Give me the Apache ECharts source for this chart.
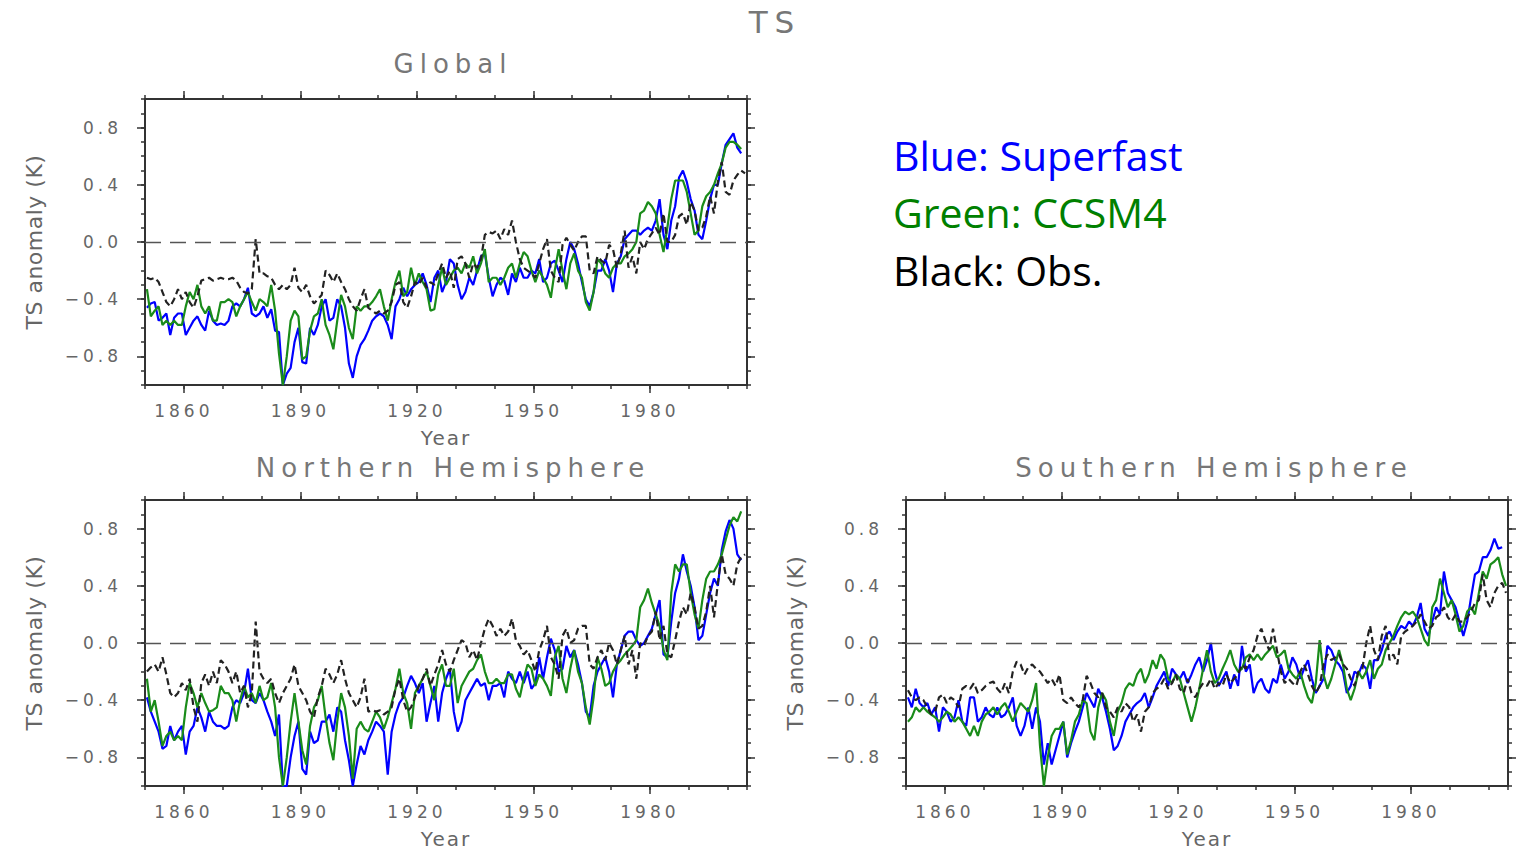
<!DOCTYPE html>
<html>
<head>
<meta charset="utf-8">
<script src="https://cdn.jsdelivr.net/npm/echarts@6/dist/echarts.min.js"></script>
<style>
html,body{margin:0;padding:0;background:#ffffff;}
#chart{width:1518px;height:853px;}
#chart text[style*="17px"]{letter-spacing:4px;}
#chart text[style*="22px"]{letter-spacing:0.5px;}
#chart text[style*="20px"]{letter-spacing:2px;}
#chart text[style*="26px"]{letter-spacing:6px;}
#chart text[style*="31px"]{letter-spacing:7px;}
</style>
</head>
<body>
<div id="chart"></div>
<script>
// Annual means, first value = 1850 (plotted at mid-year)
const START_YEAR = 1850.5;
const X_MIN = 1850, X_MAX = 2005;
const MAJOR_YEARS = [1860, 1890, 1920, 1950, 1980];
const MAJOR_Y = [-0.8, -0.4, 0, 0.4, 0.8];

const globalObs = [
 -0.25,-0.26,-0.25,-0.28,-0.35,-0.42,-0.45,-0.40,-0.33,-0.40,
 -0.35,-0.42,-0.46,-0.38,-0.27,-0.26,-0.25,-0.27,-0.26,-0.25,
 -0.26,-0.26,-0.25,-0.27,-0.32,-0.35,-0.36,-0.33,0.02,-0.22,
 -0.22,-0.24,-0.25,-0.30,-0.33,-0.30,-0.33,-0.30,-0.18,-0.32,
 -0.35,-0.30,-0.38,-0.43,-0.40,-0.37,-0.20,-0.23,-0.28,-0.22,
 -0.28,-0.33,-0.40,-0.45,-0.48,-0.40,-0.33,-0.46,-0.48,-0.50,
 -0.48,-0.50,-0.48,-0.42,-0.30,-0.28,-0.42,-0.46,-0.38,-0.28,
 -0.30,-0.25,-0.32,-0.28,-0.30,-0.22,-0.15,-0.25,-0.20,-0.32,
 -0.12,-0.10,-0.15,-0.25,-0.15,-0.18,-0.12,0.05,0.07,0.06,
 0.08,0.02,0.09,0.05,0.15,0.00,-0.12,-0.18,-0.20,-0.22,
 -0.25,-0.15,-0.05,0.02,-0.20,-0.25,-0.28,-0.02,0.03,-0.02,
 -0.06,0.00,0.04,0.04,-0.20,-0.22,-0.10,-0.13,-0.15,-0.02,
 -0.05,-0.18,-0.08,0.08,-0.18,-0.10,-0.22,0.00,-0.05,0.02,
 0.06,0.10,0.05,0.20,0.00,0.00,0.05,0.18,0.20,0.12,
 0.28,0.22,0.08,0.10,0.18,0.32,0.20,0.42,0.56,0.35,
 0.33,0.43,0.47,0.50,0.48
];
const globalSuperfast = [
 -0.46,-0.43,-0.42,-0.55,-0.53,-0.50,-0.65,-0.53,-0.50,-0.50,
 -0.65,-0.60,-0.55,-0.52,-0.58,-0.62,-0.48,-0.55,-0.58,-0.57,
 -0.58,-0.55,-0.45,-0.43,-0.45,-0.40,-0.32,-0.50,-0.52,-0.50,
 -0.45,-0.53,-0.47,-0.62,-0.63,-1.00,-0.92,-0.88,-0.70,-0.60,
 -0.84,-0.85,-0.60,-0.65,-0.58,-0.45,-0.40,-0.55,-0.53,-0.40,
 -0.45,-0.60,-0.85,-0.95,-0.80,-0.72,-0.68,-0.62,-0.55,-0.52,
 -0.50,-0.52,-0.58,-0.68,-0.45,-0.40,-0.32,-0.38,-0.33,-0.30,
 -0.28,-0.22,-0.30,-0.42,-0.25,-0.20,-0.35,-0.28,-0.12,-0.15,
 -0.30,-0.40,-0.35,-0.25,-0.30,-0.20,-0.10,-0.08,-0.25,-0.38,
 -0.30,-0.25,-0.27,-0.37,-0.22,-0.28,-0.18,-0.25,-0.25,-0.20,
 -0.22,-0.12,-0.28,-0.25,-0.15,-0.13,-0.20,-0.28,-0.12,0.00,
 -0.05,-0.15,-0.28,-0.40,-0.45,-0.35,-0.20,-0.20,-0.12,-0.20,
 -0.35,-0.15,-0.10,0.02,0.05,0.08,0.08,0.05,0.08,0.10,
 0.08,0.15,0.30,0.05,-0.05,0.15,0.25,0.45,0.50,0.42,
 0.30,0.22,0.05,0.02,0.15,0.30,0.40,0.40,0.55,0.68,
 0.72,0.76,0.66,0.62
];
const globalCCSM4 = [
 -0.33,-0.52,-0.48,-0.45,-0.58,-0.55,-0.58,-0.55,-0.58,-0.58,
 -0.45,-0.35,-0.40,-0.30,-0.45,-0.50,-0.45,-0.55,-0.55,-0.42,
 -0.42,-0.40,-0.42,-0.52,-0.45,-0.40,-0.35,-0.42,-0.48,-0.40,
 -0.42,-0.45,-0.30,-0.48,-0.78,-1.00,-0.80,-0.55,-0.48,-0.52,
 -0.82,-0.80,-0.62,-0.52,-0.50,-0.40,-0.58,-0.65,-0.75,-0.55,
 -0.37,-0.45,-0.60,-0.68,-0.45,-0.48,-0.45,-0.45,-0.42,-0.38,
 -0.33,-0.45,-0.55,-0.40,-0.28,-0.20,-0.38,-0.35,-0.18,-0.30,
 -0.22,-0.28,-0.33,-0.48,-0.47,-0.30,-0.18,-0.30,-0.25,-0.20,
 -0.18,-0.22,-0.15,-0.18,-0.10,-0.22,-0.15,-0.05,-0.28,-0.25,
 -0.25,-0.30,-0.25,-0.18,-0.15,-0.25,-0.15,-0.07,-0.10,-0.20,
 -0.28,-0.20,-0.25,-0.30,-0.39,-0.20,-0.05,-0.20,-0.33,-0.15,
 -0.08,-0.20,-0.25,-0.42,-0.48,-0.35,-0.12,-0.15,-0.22,-0.25,
 -0.18,-0.15,-0.15,-0.10,-0.08,-0.05,0.00,0.20,0.22,0.28,
 0.25,0.20,0.05,-0.07,0.10,0.30,0.43,0.43,0.43,0.35,
 0.20,0.05,0.08,0.25,0.32,0.35,0.40,0.48,0.55,0.66,
 0.70,0.70,0.68,0.65
];

const nhObs = [
 -0.20,-0.17,-0.15,-0.20,-0.10,-0.22,-0.35,-0.38,-0.35,-0.28,
 -0.33,-0.25,-0.45,-0.55,-0.28,-0.22,-0.30,-0.20,-0.28,-0.12,
 -0.15,-0.20,-0.28,-0.20,-0.35,-0.30,-0.45,-0.35,0.15,-0.20,
 -0.25,-0.28,-0.25,-0.35,-0.42,-0.35,-0.30,-0.25,-0.15,-0.30,
 -0.35,-0.40,-0.48,-0.52,-0.38,-0.30,-0.18,-0.22,-0.28,-0.22,
 -0.12,-0.25,-0.35,-0.40,-0.45,-0.38,-0.25,-0.48,-0.47,-0.48,
 -0.47,-0.50,-0.48,-0.45,-0.32,-0.25,-0.40,-0.48,-0.45,-0.38,
 -0.30,-0.25,-0.18,-0.30,-0.22,-0.15,-0.05,-0.15,-0.20,-0.12,
 -0.05,0.02,0.00,-0.10,-0.05,-0.12,0.00,0.10,0.17,0.12,
 0.05,0.10,0.05,0.08,0.17,0.02,-0.02,-0.08,-0.05,-0.12,
 -0.20,-0.05,0.02,0.12,-0.10,-0.15,-0.25,0.05,0.10,0.00,
 0.02,0.10,0.12,0.12,-0.15,-0.18,-0.10,-0.05,-0.12,0.00,
 -0.05,-0.15,-0.05,0.05,-0.15,-0.05,-0.25,0.00,-0.02,0.05,
 0.08,0.22,0.02,0.12,-0.08,-0.10,0.02,0.15,0.25,0.20,
 0.35,0.25,0.10,0.12,0.22,0.40,0.18,0.42,0.62,0.48,
 0.45,0.40,0.55,0.60,0.62
];
const nhSuperfast = [
 -0.38,-0.48,-0.55,-0.62,-0.74,-0.72,-0.58,-0.68,-0.62,-0.58,
 -0.78,-0.62,-0.58,-0.45,-0.52,-0.62,-0.48,-0.55,-0.58,-0.58,
 -0.60,-0.58,-0.45,-0.40,-0.42,-0.35,-0.18,-0.40,-0.42,-0.35,
 -0.40,-0.48,-0.55,-0.65,-0.50,-1.00,-1.00,-0.80,-0.65,-0.55,
 -0.88,-0.92,-0.62,-0.70,-0.68,-0.55,-0.55,-0.50,-0.62,-0.45,
 -0.48,-0.68,-0.82,-1.00,-0.85,-0.72,-0.78,-0.68,-0.62,-0.55,
 -0.58,-0.62,-0.92,-0.62,-0.50,-0.42,-0.38,-0.30,-0.23,-0.28,
 -0.35,-0.28,-0.55,-0.42,-0.30,-0.55,-0.35,-0.25,-0.18,-0.48,
 -0.62,-0.55,-0.40,-0.35,-0.30,-0.25,-0.30,-0.28,-0.40,-0.30,
 -0.30,-0.28,-0.38,-0.20,-0.25,-0.28,-0.20,-0.28,-0.20,-0.32,
 -0.28,-0.10,-0.25,-0.10,0.03,-0.05,-0.20,-0.18,-0.02,-0.10,
 -0.05,-0.15,-0.28,-0.48,-0.52,-0.30,-0.20,-0.15,-0.10,-0.20,
 -0.38,-0.15,-0.05,0.05,0.08,0.08,0.02,-0.02,0.00,0.05,
 0.10,0.20,0.30,-0.08,-0.10,0.15,0.35,0.45,0.62,0.50,
 0.40,0.25,0.02,0.05,0.20,0.35,0.45,0.40,0.65,0.78,
 0.86,0.80,0.62,0.58
];
const nhCCSM4 = [
 -0.25,-0.48,-0.40,-0.55,-0.72,-0.65,-0.62,-0.68,-0.65,-0.68,
 -0.45,-0.28,-0.35,-0.45,-0.35,-0.42,-0.48,-0.47,-0.45,-0.30,
 -0.35,-0.35,-0.40,-0.55,-0.40,-0.30,-0.38,-0.35,-0.42,-0.30,
 -0.40,-0.38,-0.28,-0.45,-0.80,-1.00,-0.80,-0.55,-0.35,-0.55,
 -0.75,-0.85,-0.58,-0.45,-0.40,-0.30,-0.52,-0.70,-0.82,-0.55,
 -0.35,-0.45,-0.65,-0.95,-0.60,-0.55,-0.60,-0.62,-0.55,-0.48,
 -0.52,-0.60,-0.52,-0.42,-0.32,-0.18,-0.35,-0.42,-0.60,-0.35,
 -0.30,-0.25,-0.20,-0.30,-0.40,-0.22,-0.15,-0.30,-0.30,-0.18,
 -0.42,-0.30,-0.25,-0.20,-0.18,-0.12,-0.08,-0.20,-0.28,-0.28,
 -0.25,-0.28,-0.28,-0.22,-0.22,-0.32,-0.38,-0.25,-0.15,-0.18,
 -0.30,-0.22,-0.25,-0.30,-0.37,-0.10,-0.02,-0.25,-0.35,-0.18,
 -0.05,-0.20,-0.28,-0.45,-0.57,-0.38,-0.10,-0.18,-0.30,-0.28,
 -0.20,-0.15,-0.12,-0.08,-0.05,-0.02,0.02,0.25,0.30,0.38,
 0.28,0.20,0.12,-0.05,-0.12,0.35,0.55,0.50,0.55,0.55,
 0.35,0.20,0.10,0.30,0.45,0.50,0.50,0.55,0.62,0.72,
 0.82,0.88,0.85,0.92
];

const shObs = [
 -0.33,-0.38,-0.40,-0.38,-0.40,-0.45,-0.50,-0.48,-0.38,-0.36,
 -0.42,-0.38,-0.40,-0.45,-0.32,-0.30,-0.32,-0.28,-0.35,-0.33,
 -0.30,-0.28,-0.27,-0.32,-0.35,-0.28,-0.35,-0.20,-0.13,-0.15,
 -0.22,-0.17,-0.15,-0.18,-0.20,-0.24,-0.28,-0.25,-0.30,-0.22,
 -0.40,-0.42,-0.38,-0.42,-0.45,-0.40,-0.23,-0.28,-0.35,-0.38,
 -0.35,-0.45,-0.48,-0.52,-0.45,-0.48,-0.42,-0.45,-0.55,-0.50,
 -0.62,-0.48,-0.45,-0.35,-0.32,-0.30,-0.25,-0.32,-0.28,-0.22,
 -0.32,-0.35,-0.25,-0.35,-0.38,-0.32,-0.28,-0.30,-0.25,-0.32,
 -0.28,-0.30,-0.22,-0.28,-0.25,-0.22,-0.15,-0.18,-0.10,-0.05,
 0.05,0.10,0.02,-0.05,0.10,-0.05,-0.20,-0.28,-0.25,-0.28,
 -0.30,-0.20,-0.15,-0.22,-0.30,-0.35,-0.30,-0.15,-0.08,-0.12,
 -0.10,-0.08,-0.15,-0.18,-0.25,-0.30,-0.20,-0.18,0.00,0.12,
 -0.05,-0.12,0.05,0.12,-0.12,-0.08,-0.15,0.05,0.08,0.10,
 0.12,0.15,0.20,0.15,0.10,0.12,0.18,0.20,0.25,0.18,
 0.15,0.20,0.15,0.15,0.18,0.22,0.28,0.30,0.48,0.30,
 0.25,0.35,0.40,0.42,0.35
];
const shSuperfast = [
 -0.38,-0.45,-0.32,-0.42,-0.45,-0.42,-0.50,-0.45,-0.62,-0.45,
 -0.48,-0.55,-0.52,-0.40,-0.55,-0.58,-0.38,-0.38,-0.55,-0.52,
 -0.45,-0.50,-0.52,-0.45,-0.52,-0.50,-0.45,-0.38,-0.58,-0.65,
 -0.58,-0.45,-0.60,-0.45,-0.55,-0.85,-0.70,-0.85,-0.75,-0.65,
 -0.55,-0.80,-0.70,-0.62,-0.55,-0.45,-0.35,-0.40,-0.45,-0.32,
 -0.38,-0.48,-0.60,-0.75,-0.72,-0.65,-0.55,-0.50,-0.45,-0.42,
 -0.40,-0.35,-0.45,-0.38,-0.30,-0.25,-0.20,-0.30,-0.18,-0.22,
 -0.25,-0.20,-0.28,-0.22,-0.15,-0.10,-0.20,-0.12,0.00,-0.20,
 -0.30,-0.25,-0.20,-0.32,-0.22,-0.30,-0.02,-0.20,-0.15,-0.35,
 -0.28,-0.25,-0.32,-0.35,-0.25,-0.28,-0.15,-0.25,-0.20,-0.10,
 -0.15,-0.25,-0.18,-0.12,-0.25,-0.35,-0.30,-0.25,-0.02,-0.05,
 -0.12,-0.15,-0.20,-0.35,-0.30,-0.20,-0.22,-0.15,-0.18,-0.32,
 -0.12,-0.12,-0.05,0.05,0.08,0.02,0.08,0.12,0.10,0.15,
 0.12,0.18,0.28,0.10,0.05,0.15,0.25,0.20,0.50,0.35,
 0.30,0.25,0.15,0.05,0.15,0.32,0.48,0.50,0.60,0.60,
 0.65,0.73,0.66,0.67
];
const shCCSM4 = [
 -0.55,-0.52,-0.45,-0.48,-0.45,-0.48,-0.50,-0.52,-0.55,-0.52,
 -0.48,-0.50,-0.55,-0.52,-0.55,-0.60,-0.65,-0.58,-0.65,-0.55,
 -0.50,-0.48,-0.45,-0.50,-0.45,-0.42,-0.48,-0.55,-0.48,-0.42,
 -0.45,-0.48,-0.40,-0.28,-0.72,-1.00,-0.80,-0.65,-0.60,-0.60,
 -0.55,-0.78,-0.68,-0.55,-0.50,-0.40,-0.42,-0.62,-0.68,-0.45,
 -0.35,-0.40,-0.55,-0.65,-0.48,-0.42,-0.32,-0.28,-0.30,-0.22,
 -0.18,-0.28,-0.22,-0.12,-0.18,-0.08,-0.12,-0.25,-0.28,-0.22,
 -0.25,-0.35,-0.45,-0.55,-0.45,-0.32,-0.18,-0.05,-0.20,-0.28,
 -0.25,-0.18,-0.12,-0.05,-0.15,-0.20,-0.18,-0.10,-0.08,-0.12,
 -0.08,-0.12,-0.08,-0.05,-0.02,-0.10,-0.08,-0.05,-0.18,-0.22,
 -0.25,-0.20,-0.30,-0.38,-0.42,-0.28,0.02,-0.22,-0.32,-0.25,
 -0.15,-0.05,-0.15,-0.32,-0.40,-0.32,-0.20,-0.25,-0.20,-0.12,
 -0.25,-0.18,-0.15,-0.05,0.00,0.05,0.12,0.18,0.22,0.20,
 0.22,0.18,0.10,0.02,-0.02,0.25,0.30,0.45,0.35,0.25,
 0.30,0.20,0.08,0.12,0.22,0.25,0.20,0.35,0.50,0.45,
 0.55,0.57,0.60,0.48,0.40
];

const PANEL_TITLES = ['Global', 'Northern Hemisphere', 'Southern Hemisphere'];
const PANELS = [
  {obs: globalObs, sf: globalSuperfast, cc: globalCCSM4},
  {obs: nhObs, sf: nhSuperfast, cc: nhCCSM4},
  {obs: shObs, sf: shSuperfast, cc: shCCSM4}
];
const LEGEND_LINES = ['Blue: Superfast', 'Green: CCSM4', 'Black: Obs.'];

// ---- layout / style ----
const GRIDS = [
  {left: 145, top: 99, width: 602, height: 286},
  {left: 145, top: 500, width: 602, height: 286},
  {left: 906, top: 500, width: 602, height: 286}
];
const FONT = 'DejaVu Sans';
const FRAME = {color: '#333333', width: 2};
const TICK = {color: '#333333', width: 1.5};
const LABEL_COLOR = '#666666';
const BLUE = '#0000ff', GREEN = '#1a8c1a', BLACK = '#222222';

function toPoints(arr) { return arr.map((v, i) => [START_YEAR + i, v]); }
function yFmt(v) {
  const r = Math.round(v * 10);
  if (r % 4 !== 0 || Math.abs(r) === 10) return '';
  return (r < 0 ? '\u2212' : '') + (Math.abs(r) / 10).toFixed(1);
}
function xFmt(v) { return (Math.round(v) % 30 === 0) ? String(Math.round(v)) : ''; }

const xAxis = [], yAxis = [], series = [];
GRIDS.forEach((g, i) => {
  const common = {gridIndex: i, type: 'value', min: X_MIN, max: X_MAX, splitLine: {show: false}};
  xAxis.push(Object.assign({}, common, {
    position: 'bottom', interval: 10,
    axisLine: {show: true, onZero: false, lineStyle: FRAME},
    axisTick: {show: true, inside: false, length: 4, lineStyle: TICK},
    axisLabel: {formatter: xFmt, color: LABEL_COLOR, fontFamily: FONT, fontSize: 17, margin: 17},
    name: 'Year', nameLocation: 'middle', nameGap: 43,
    nameTextStyle: {color: LABEL_COLOR, fontFamily: FONT, fontSize: 20}
  }));
  xAxis.push(Object.assign({}, common, {
    position: 'bottom',
    axisLine: {show: false, onZero: false},
    axisTick: {show: true, inside: false, length: 8, lineStyle: TICK, customValues: MAJOR_YEARS},
    axisLabel: {show: false}
  }));
  xAxis.push(Object.assign({}, common, {
    position: 'top', interval: 10,
    axisLine: {show: true, onZero: false, lineStyle: FRAME},
    axisTick: {show: true, inside: false, length: 4, lineStyle: TICK},
    axisLabel: {show: false}
  }));
  xAxis.push(Object.assign({}, common, {
    position: 'top',
    axisLine: {show: false, onZero: false},
    axisTick: {show: true, inside: false, length: 8, lineStyle: TICK, customValues: MAJOR_YEARS},
    axisLabel: {show: false}
  }));

  const ycommon = {gridIndex: i, type: 'value', min: -1, max: 1, splitLine: {show: false}};
  yAxis.push(Object.assign({}, ycommon, {
    position: 'left', interval: 0.1,
    axisLine: {show: true, onZero: false, lineStyle: FRAME},
    axisTick: {show: true, inside: false, length: 4, lineStyle: TICK},
    axisLabel: {formatter: yFmt, color: LABEL_COLOR, fontFamily: FONT, fontSize: 17, margin: 23},
    name: 'TS anomaly (K)', nameLocation: 'middle', nameGap: 100,
    nameTextStyle: {color: LABEL_COLOR, fontFamily: FONT, fontSize: 22}
  }));
  yAxis.push(Object.assign({}, ycommon, {
    position: 'left',
    axisLine: {show: false, onZero: false},
    axisTick: {show: true, inside: false, length: 8, lineStyle: TICK, customValues: MAJOR_Y},
    axisLabel: {show: false}
  }));
  yAxis.push(Object.assign({}, ycommon, {
    position: 'right', interval: 0.1,
    axisLine: {show: true, onZero: false, lineStyle: FRAME},
    axisTick: {show: true, inside: false, length: 4, lineStyle: TICK},
    axisLabel: {show: false}
  }));
  yAxis.push(Object.assign({}, ycommon, {
    position: 'right',
    axisLine: {show: false, onZero: false},
    axisTick: {show: true, inside: false, length: 8, lineStyle: TICK, customValues: MAJOR_Y},
    axisLabel: {show: false}
  }));

  const p = PANELS[i];
  const base = {type: 'line', xAxisIndex: i * 4, yAxisIndex: i * 4, symbol: 'none', silent: true, clip: true};
  series.push(Object.assign({}, base, {
    name: 'Superfast', data: toPoints(p.sf),
    lineStyle: {color: BLUE, width: 2.2},
    markLine: {silent: true, symbol: 'none', label: {show: false},
      lineStyle: {color: '#555555', width: 1.3, type: [16, 9]},
      data: [{yAxis: 0}]}
  }));
  series.push(Object.assign({}, base, {
    name: 'CCSM4', data: toPoints(p.cc),
    lineStyle: {color: GREEN, width: 2.2}
  }));
  series.push(Object.assign({}, base, {
    name: 'Obs', data: toPoints(p.obs),
    lineStyle: {color: BLACK, width: 2.2, type: [7, 4]}
  }));
});

const titleStyle = {color: '#777777', fontFamily: FONT, fontWeight: 'normal'};
const legendStyle = {fontFamily: 'Open Sans', fontSize: 41, fontWeight: 'normal'};
const title = [
  {text: 'TS', left: 770, top: 1, textAlign: 'center', textStyle: Object.assign({}, titleStyle, {fontSize: 31})},
  {text: PANEL_TITLES[0], left: 448, top: 46, textAlign: 'center', textStyle: Object.assign({}, titleStyle, {fontSize: 26})},
  {text: PANEL_TITLES[1], left: 448, top: 450, textAlign: 'center', textStyle: Object.assign({}, titleStyle, {fontSize: 26})},
  {text: PANEL_TITLES[2], left: 1209, top: 450, textAlign: 'center', textStyle: Object.assign({}, titleStyle, {fontSize: 26})},
  {text: LEGEND_LINES[0], left: 888, top: 129, textStyle: Object.assign({color: '#0000ff'}, legendStyle)},
  {text: LEGEND_LINES[1], left: 888, top: 186, textStyle: Object.assign({color: '#008000'}, legendStyle)},
  {text: LEGEND_LINES[2], left: 888, top: 244, textStyle: Object.assign({color: '#000000'}, legendStyle)}
];

const chart = echarts.init(document.getElementById('chart'), null, {renderer: 'svg'});
chart.setOption({
  animation: false,
  backgroundColor: '#ffffff',
  title: title,
  grid: GRIDS.map(g => Object.assign({containLabel: false}, g)),
  xAxis: xAxis,
  yAxis: yAxis,
  series: series
});
</script>
</body>
</html>
